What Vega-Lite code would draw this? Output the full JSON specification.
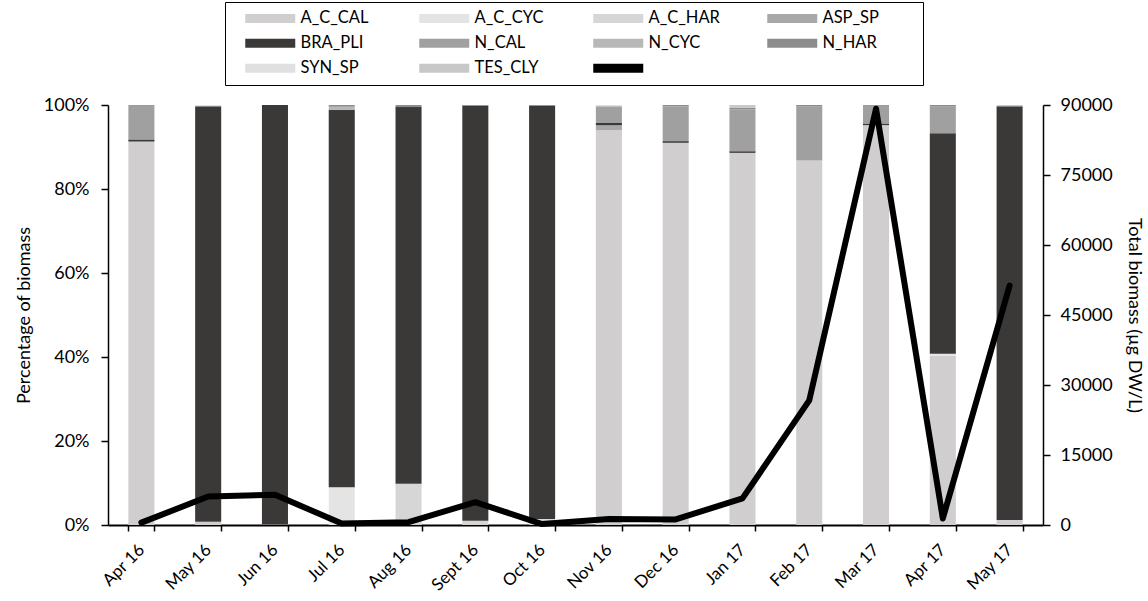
{
  "$schema": "https://vega.github.io/schema/vega-lite/v6.json",
  "width": 935,
  "height": 420,
  "autosize": "none",
  "padding": {"left": 108, "top": 105, "right": 105, "bottom": 76},
  "background": "white",
  "config": {
    "font": "Lato",
    "view": {"stroke": null},
    "axis": {"labelFont": "Lato", "titleFont": "Lato", "labelColor": "#000", "titleColor": "#000", "titleFontWeight": "normal", "domainColor": "#000", "tickColor": "#000", "grid": false, "labelFontSize": 18, "titleFontSize": 18}
  },
  "datasets": {
    "comp": [
      {"month": "Apr 16", "species": "A_C_CAL", "pct": 91.3},
      {"month": "Apr 16", "species": "BRA_PLI", "pct": 0.5},
      {"month": "Apr 16", "species": "N_CAL", "pct": 8.0},
      {"month": "Apr 16", "species": "N_HAR", "pct": 0.2},
      {"month": "May 16", "species": "A_C_CAL", "pct": 0.8},
      {"month": "May 16", "species": "BRA_PLI", "pct": 98.9},
      {"month": "May 16", "species": "SYN_SP", "pct": 0.3},
      {"month": "Jun 16", "species": "A_C_CAL", "pct": 0.1},
      {"month": "Jun 16", "species": "BRA_PLI", "pct": 99.9},
      {"month": "Jul 16", "species": "A_C_CYC", "pct": 9.0},
      {"month": "Jul 16", "species": "BRA_PLI", "pct": 89.8},
      {"month": "Jul 16", "species": "N_CYC", "pct": 0.8},
      {"month": "Jul 16", "species": "N_HAR", "pct": 0.4},
      {"month": "Aug 16", "species": "A_C_HAR", "pct": 9.8},
      {"month": "Aug 16", "species": "BRA_PLI", "pct": 89.7},
      {"month": "Aug 16", "species": "N_HAR", "pct": 0.5},
      {"month": "Sept 16", "species": "A_C_HAR", "pct": 1.0},
      {"month": "Sept 16", "species": "BRA_PLI", "pct": 98.8},
      {"month": "Sept 16", "species": "N_HAR", "pct": 0.2},
      {"month": "Oct 16", "species": "A_C_HAR", "pct": 1.4},
      {"month": "Oct 16", "species": "BRA_PLI", "pct": 98.4},
      {"month": "Oct 16", "species": "N_HAR", "pct": 0.2},
      {"month": "Nov 16", "species": "A_C_CAL", "pct": 94.0},
      {"month": "Nov 16", "species": "ASP_SP", "pct": 1.2},
      {"month": "Nov 16", "species": "BRA_PLI", "pct": 0.5},
      {"month": "Nov 16", "species": "N_CAL", "pct": 4.0},
      {"month": "Nov 16", "species": "SYN_SP", "pct": 0.3},
      {"month": "Dec 16", "species": "A_C_CAL", "pct": 91.0},
      {"month": "Dec 16", "species": "BRA_PLI", "pct": 0.4},
      {"month": "Dec 16", "species": "N_CAL", "pct": 8.3},
      {"month": "Dec 16", "species": "N_HAR", "pct": 0.3},
      {"month": "Jan 17", "species": "A_C_CAL", "pct": 88.6},
      {"month": "Jan 17", "species": "BRA_PLI", "pct": 0.4},
      {"month": "Jan 17", "species": "N_CAL", "pct": 10.0},
      {"month": "Jan 17", "species": "N_HAR", "pct": 0.3},
      {"month": "Jan 17", "species": "TES_CLY", "pct": 0.7},
      {"month": "Feb 17", "species": "A_C_CAL", "pct": 86.8},
      {"month": "Feb 17", "species": "N_CAL", "pct": 12.8},
      {"month": "Feb 17", "species": "N_HAR", "pct": 0.4},
      {"month": "Mar 17", "species": "A_C_CAL", "pct": 95.2},
      {"month": "Mar 17", "species": "BRA_PLI", "pct": 0.4},
      {"month": "Mar 17", "species": "N_CAL", "pct": 4.2},
      {"month": "Mar 17", "species": "N_HAR", "pct": 0.2},
      {"month": "Apr 17", "species": "A_C_CAL", "pct": 40.3},
      {"month": "Apr 17", "species": "A_C_CYC", "pct": 0.5},
      {"month": "Apr 17", "species": "BRA_PLI", "pct": 52.5},
      {"month": "Apr 17", "species": "N_CAL", "pct": 6.3},
      {"month": "Apr 17", "species": "N_HAR", "pct": 0.4},
      {"month": "May 17", "species": "A_C_CAL", "pct": 1.2},
      {"month": "May 17", "species": "BRA_PLI", "pct": 98.5},
      {"month": "May 17", "species": "TES_CLY", "pct": 0.3}
    ],
    "tot": [
      {"month": "Apr 16", "biomass": 500},
      {"month": "May 16", "biomass": 6100},
      {"month": "Jun 16", "biomass": 6500},
      {"month": "Jul 16", "biomass": 300},
      {"month": "Aug 16", "biomass": 600},
      {"month": "Sept 16", "biomass": 4900},
      {"month": "Oct 16", "biomass": 200},
      {"month": "Nov 16", "biomass": 1300},
      {"month": "Dec 16", "biomass": 1200},
      {"month": "Jan 17", "biomass": 5700},
      {"month": "Feb 17", "biomass": 26700},
      {"month": "Mar 17", "biomass": 89200},
      {"month": "Apr 17", "biomass": 1400},
      {"month": "May 17", "biomass": 51300}
    ]
  },
  "layer": [
    {
      "data": {"name": "comp"},
      "transform": [
        {"calculate": "indexof(['A_C_CAL','A_C_CYC','A_C_HAR','ASP_SP','BRA_PLI','N_CAL','N_CYC','N_HAR','SYN_SP','TES_CLY'], datum.species)", "as": "ord"}
      ],
      "mark": {"type": "bar"},
      "encoding": {
        "x": {
          "field": "month", "type": "nominal",
          "sort": ["Apr 16", "May 16", "Jun 16", "Jul 16", "Aug 16", "Sept 16", "Oct 16", "Nov 16", "Dec 16", "Jan 17", "Feb 17", "Mar 17", "Apr 17", "May 17"],
          "scale": {"paddingInner": 0.61, "paddingOuter": 0.305},
          "axis": {"title": null, "labelAngle": -45, "labelAlign": "right", "labelBaseline": "middle", "labelFontSize": 17, "tickBand": "extent", "tickSize": 6, "tickWidth": 1.5, "domainWidth": 2, "labelPadding": 16}
        },
        "y": {
          "field": "pct", "type": "quantitative", "stack": "normalize",
          "axis": {"title": "Percentage of biomass", "format": ".0%", "values": [0, 0.2, 0.4, 0.6, 0.8, 1], "tickSize": 7, "tickWidth": 1.5, "domainWidth": 1.5, "labelPadding": 12, "titlePadding": 10}
        },
        "color": {
          "field": "species", "type": "nominal",
          "scale": {
            "domain": ["A_C_CAL", "A_C_CYC", "A_C_HAR", "ASP_SP", "BRA_PLI", "N_CAL", "N_CYC", "N_HAR", "SYN_SP", "TES_CLY", "Total"],
            "range": ["#d0cece", "#e4e4e4", "#d6d6d6", "#a8a8a8", "#3b3838", "#a0a0a0", "#b8b8b8", "#8c8c8c", "#e0e0e0", "#c8c8c8", "#000000"]
          },
          "legend": {
            "orient": "none", "legendX": 117, "legendY": -103, "columns": 4, "title": null, "direction": "horizontal",
            "strokeColor": "#000", "padding": 8, "gridAlign": "all",
            "symbolType": "M-1,-0.9H9V0.9H-1Z", "symbolSize": 100, "symbolStrokeWidth": 0, "symbolOffset": 9, "symbolOpacity": 1,
            "labelOffset": 42, "labelFontSize": 16.5, "labelFont": "Lato", "labelColor": "#000",
            "rowPadding": 8, "columnPadding": 14,
            "labelExpr": "datum.label === 'Total' ? '' : (datum.label === 'ASP_SP' || datum.label === 'N_HAR') ? datum.label + '⠀⠀⠀' : datum.label"
          }
        },
        "order": {"field": "ord", "type": "quantitative"}
      }
    },
    {
      "data": {"name": "tot"},
      "mark": {"type": "line", "strokeWidth": 6, "strokeJoin": "round", "strokeCap": "round"},
      "encoding": {
        "x": {"field": "month", "type": "nominal", "sort": ["Apr 16", "May 16", "Jun 16", "Jul 16", "Aug 16", "Sept 16", "Oct 16", "Nov 16", "Dec 16", "Jan 17", "Feb 17", "Mar 17", "Apr 17", "May 17"]},
        "y": {
          "field": "biomass", "type": "quantitative", "scale": {"domain": [0, 90000]},
          "axis": {"orient": "right", "title": "Total biomass (µg DW/L)", "values": [0, 15000, 30000, 45000, 60000, 75000, 90000], "format": "d", "tickSize": 7, "tickWidth": 1.5, "domainWidth": 1.5, "labelPadding": 10, "titlePadding": 12}
        },
        "color": {"datum": "Total"}
      }
    }
  ],
  "resolve": {"scale": {"y": "independent"}}
}
